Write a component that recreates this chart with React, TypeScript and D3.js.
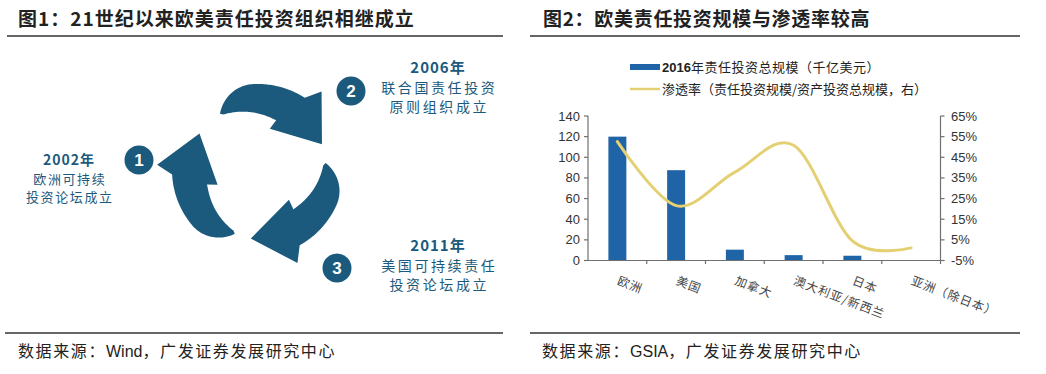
import React from "react";
import * as d3 from "d3";

// ---------- data ----------
const categories = ["欧洲", "美国", "加拿大", "澳大利亚/新西兰", "日本", "亚洲（除日本）"];
const aumValues = [120, 87.5, 10.5, 5.2, 4.6, 0.4]; // 2016年责任投资总规模（千亿美元）
const penetration = [52.6, 21.6, 37.8, 50.8, 4.5, 1.1]; // 渗透率 %
const leftTicks = [0, 20, 40, 60, 80, 100, 120, 140];
const rightTicks = [-5, 5, 15, 25, 35, 45, 55, 65];

const milestoneNums = ["1", "2", "3"];
const milestoneYears = ["2002年", "2006年", "2011年"];
const milestoneLine1 = ["欧洲可持续", "联合国责任投资", "美国可持续责任"];
const milestoneLine2 = ["投资论坛成立", "原则组织成立", "投资论坛成立"];

const title1 = "图1：21世纪以来欧美责任投资组织相继成立";
const title2 = "图2：欧美责任投资规模与渗透率较高";
const sourceLead = "数据来源：";
const source1Name = "Wind";
const source2Name = "GSIA";
const sourceTail = "，广发证券发展研究中心";
const legendBar = "责任投资总规模（千亿美元）";
const legendBarYear = "2016年";
const legendLine = "渗透率（责任投资规模/资产投资总规模，右）";

// ---------- style ----------
const CJK = "'Noto Sans CJK SC', 'Liberation Sans', sans-serif";
const LAT = "'Liberation Sans', Arial, sans-serif";
const TEAL = "#1b5a7c";
const BAR = "#1f64a6";
const LINE = "#e4d073";
const AXIS = "#707070";

// diagram layout
const ARC_CX = 258;
const ARC_CY = 170;
const tailAngles = [110, 236, 354];
const badgePos = [
  [139, 160],
  [351, 91],
  [337, 268],
];
const textPos = [
  { x: 69, y: [160, 179, 197], f: 13, ls: 1.6, fy: 14 },
  { x: 438, y: [68, 88, 107], f: 14, ls: 2.6, fy: 15 },
  { x: 438, y: [246, 266, 285], f: 14, ls: 2.6, fy: 15 },
];

function arrowPath(cx: number, cy: number, T: number) {
  const pt = (deg: number, r: number): [number, number] => [
    cx + r * Math.cos((deg * Math.PI) / 180),
    cy + r * Math.sin((deg * Math.PI) / 180),
  ];
  const p = d3.path();
  let first = true;
  for (let a = T; a <= T + 67; a += 1) {
    const s = Math.min(1, (a - T) / 30);
    const r = 86 - 18 * (1 - s) * (1 - s);
    const [x, y] = pt(a, r);
    if (first) p.moveTo(x, y);
    else p.lineTo(x, y);
    first = false;
  }
  p.lineTo(...pt(T + 73, 101));
  p.lineTo(...pt(T + 102, 69));
  p.lineTo(...pt(T + 50, 43));
  p.lineTo(...pt(T + 54, 53));
  for (let a = T + 54; a >= T + 2; a -= 1) {
    const u = (a - T) / 54;
    const r = 53 + 13 * Math.pow(1 - u, 1.3);
    p.lineTo(...pt(a, r));
  }
  p.closePath();
  return p.toString();
}

function SourceText({ x, name }: { x: number; name: string }) {
  return (
    <text x={x} y={357} fontFamily={CJK} fontSize={16} fill="#222">
      <tspan letterSpacing={1.6}>{sourceLead}</tspan>
      <tspan fontFamily={LAT} letterSpacing={0}>
        {name}
      </tspan>
      <tspan letterSpacing={1.6}>{sourceTail}</tspan>
    </text>
  );
}

export default function App() {
  const plotLeft = 588;
  const plotRight = 940.5;
  const plotTop = 116;
  const plotBottom = 260.5;

  const x = d3
    .scaleBand<string>()
    .domain(categories)
    .range([plotLeft, plotRight])
    .paddingInner(0.694)
    .paddingOuter(0.347);
  const yL = d3.scaleLinear().domain([0, 140]).range([plotBottom, plotTop]);
  const yR = d3.scaleLinear().domain([-5, 65]).range([plotBottom, plotTop]);
  const step = x.step();
  const center = (c: string) => (x(c) as number) + x.bandwidth() / 2;

  const linePath = d3
    .line<number>()
    .x((_, i) => center(categories[i]))
    .y((d) => yR(d))
    .curve(d3.curveCatmullRom.alpha(0))(penetration);

  return (
    <div style={{ position: "fixed", left: 0, top: 0 }}>
      <svg width={1046} height={374} style={{ display: "block", background: "#fff" }}>
        {/* ---------- left panel ---------- */}
        <text x={18} y={26} fontFamily={CJK} fontSize={19} fontWeight={700} fill="#222" letterSpacing={1}>
          {title1}
        </text>
        <line x1={7} x2={503} y1={36} y2={36} stroke="#333" strokeWidth={1.5} />
        {tailAngles.map((T, i) => (
          <path key={"arr" + i} d={arrowPath(ARC_CX, ARC_CY, T)} fill={TEAL} />
        ))}
        {milestoneNums.map((n, i) => (
          <g key={"b" + i}>
            <circle cx={badgePos[i][0]} cy={badgePos[i][1]} r={14.5} fill={TEAL} />
            <text
              x={badgePos[i][0]}
              y={badgePos[i][1] + 6}
              textAnchor="middle"
              fontFamily={LAT}
              fontWeight={700}
              fontSize={17}
              fill="#fff"
            >
              {n}
            </text>
          </g>
        ))}
        {milestoneYears.map((yr, i) => {
          const tp = textPos[i];
          return (
            <g key={"t" + i} fill={TEAL} textAnchor="middle">
              <text x={tp.x} y={tp.y[0] + 5} fontFamily={CJK} fontWeight={700} fontSize={tp.fy} letterSpacing={1}>
                {yr}
              </text>
              <text x={tp.x + tp.ls / 2} y={tp.y[1] + 5} fontFamily={CJK} fontSize={tp.f} letterSpacing={tp.ls}>
                {milestoneLine1[i]}
              </text>
              <text x={tp.x + tp.ls / 2} y={tp.y[2] + 5} fontFamily={CJK} fontSize={tp.f} letterSpacing={tp.ls}>
                {milestoneLine2[i]}
              </text>
            </g>
          );
        })}
        <line x1={5} x2={503} y1={333} y2={333} stroke="#333" strokeWidth={1.5} />
        <SourceText x={18} name={source1Name} />

        {/* ---------- right panel ---------- */}
        <text x={543} y={26} fontFamily={CJK} fontSize={19} fontWeight={700} fill="#222" letterSpacing={0.7}>
          {title2}
        </text>
        <line x1={530} x2={1020} y1={36} y2={36} stroke="#333" strokeWidth={1.5} />

        {/* legend */}
        <rect x={630} y={64} width={30} height={6} fill={BAR} />
        <text x={662} y={72} fontFamily={CJK} fontSize={13} fill="#222">
          <tspan fontFamily={LAT} fontWeight={700}>
            {legendBarYear.slice(0, 4)}
          </tspan>
          <tspan letterSpacing={0.5}>{legendBarYear.slice(4) + legendBar}</tspan>
        </text>
        <line x1={630} x2={660} y1={89} y2={89} stroke={LINE} strokeWidth={2.5} />
        <text x={662} y={94} fontFamily={CJK} fontSize={13} fill="#222">
          {legendLine}
        </text>

        {/* bars */}
        {categories.map((c, i) => (
          <rect
            key={"bar" + i}
            x={x(c)}
            y={yL(aumValues[i])}
            width={x.bandwidth()}
            height={plotBottom - yL(aumValues[i])}
            fill={BAR}
          />
        ))}

        {/* axes */}
        <line x1={plotLeft} x2={plotLeft} y1={plotTop} y2={plotBottom} stroke={AXIS} strokeWidth={1.2} />
        <line x1={plotRight} x2={plotRight} y1={plotTop} y2={plotBottom} stroke={AXIS} strokeWidth={1.2} />
        <line x1={plotLeft - 4} x2={plotRight + 4} y1={plotBottom} y2={plotBottom} stroke={AXIS} strokeWidth={1.2} />
        {leftTicks.map((t) => (
          <g key={"lt" + t}>
            <line x1={plotLeft - 4} x2={plotLeft} y1={yL(t)} y2={yL(t)} stroke={AXIS} strokeWidth={1.2} />
            <text x={580} y={yL(t) + 4.5} textAnchor="end" fontFamily={LAT} fontSize={13} fill="#333">
              {t}
            </text>
          </g>
        ))}
        {rightTicks.map((t) => (
          <g key={"rt" + t}>
            <line x1={plotRight} x2={plotRight + 4} y1={yR(t)} y2={yR(t)} stroke={AXIS} strokeWidth={1.2} />
            <text x={951} y={yR(t) + 4.5} textAnchor="start" fontFamily={LAT} fontSize={13} fill="#333">
              {t + "%"}
            </text>
          </g>
        ))}
        {categories.map((c, i) => (
          <line
            key={"xt" + i}
            x1={plotLeft + step * (i + 1)}
            x2={plotLeft + step * (i + 1)}
            y1={plotBottom}
            y2={plotBottom + 3.5}
            stroke={AXIS}
            strokeWidth={1.2}
          />
        ))}
        {categories.map((c, i) => (
          <text
            key={"xl" + i}
            transform={`translate(${center(c) - 1},${284}) rotate(21)`}
            fontFamily={CJK}
            fontSize={12}
            letterSpacing={1}
            fill="#444"
          >
            {c}
          </text>
        ))}

        {/* penetration line */}
        <path d={linePath || ""} fill="none" stroke={LINE} strokeWidth={3} strokeLinecap="round" />

        <line x1={530} x2={1020} y1={333} y2={333} stroke="#333" strokeWidth={1.5} />
        <SourceText x={542} name={source2Name} />
      </svg>
    </div>
  );
}
